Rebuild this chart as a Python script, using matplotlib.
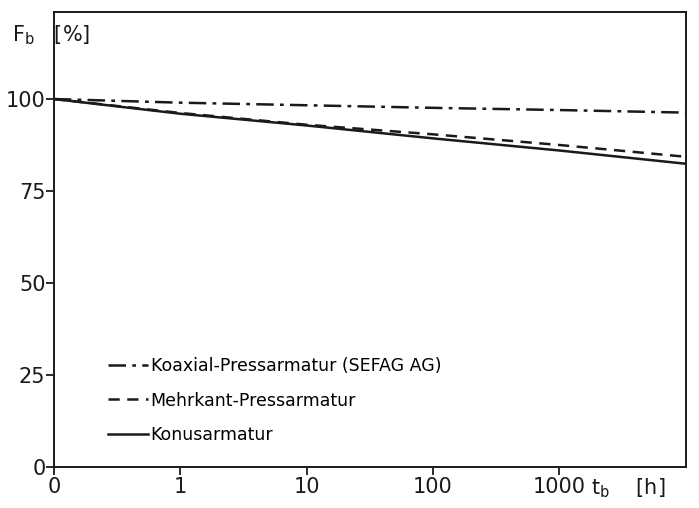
import numpy as np
import matplotlib
matplotlib.use("Agg")
import matplotlib.pyplot as plt

# operating time [h] and remaining force [%]
t_hours = [0, 1, 10, 100, 1000, 10000]
koaxial = [100, 99.0, 98.3, 97.6, 97.0, 96.3]
mehrkant = [100, 96.2, 93.0, 90.4, 87.5, 84.3]
konus = [100, 96.0, 92.8, 89.3, 86.0, 82.4]

labels = ["Koaxial-Pressarmatur (SEFAG AG)", "Mehrkant-Pressarmatur", "Konusarmatur"]
x_ticks = [0, 1, 10, 100, 1000]
x_ticklabels = ["0", "1", "10", "100", "1000"]
y_ticks = [0, 25, 50, 75, 100]


# linear from 0 to 1 h, logarithmic above
def fwd(t):
    t = np.asarray(t, dtype=float)
    return np.where(t < 1, t, np.log10(np.maximum(t, 1)) + 1)


def inv(p):
    p = np.asarray(p, dtype=float)
    return np.where(p < 1, p, 10 ** (p - 1))


plt.rcParams["font.family"] = "DejaVu Sans"

fig = plt.figure(figsize=(6.99, 5.08), dpi=100)
ax = fig.add_axes([0.077, 0.081, 0.904, 0.895])

ax.plot(t_hours, koaxial, color="#1a1a1a", lw=1.8, dashes=(7, 2.5, 1.5, 2.5), label=labels[0])
ax.plot(t_hours, mehrkant, color="#1a1a1a", lw=1.8, dashes=(4.5, 3), label=labels[1])
ax.plot(t_hours, konus, color="#1a1a1a", lw=1.8, label=labels[2])

ax.set_xscale("function", functions=(fwd, inv))
ax.set_xlim(0, 10000)
ax.set_ylim(0, 123.6)

ax.set_xticks(x_ticks)
ax.set_xticklabels(x_ticklabels)
ax.set_yticks(y_ticks)
ax.minorticks_off()
ax.tick_params(axis="both", direction="out", length=6, width=1.3, labelsize=15, pad=1,
               colors="#1a1a1a")
ax.tick_params(axis="y", pad=0)
for s in ax.spines.values():
    s.set_linewidth(1.4)
    s.set_color("#1a1a1a")

fig.text(0.017, 0.918, r"F$_\mathregular{b}$   [%]", fontsize=15, color="#1a1a1a")
fig.text(0.845, 0.027, r"t$_\mathregular{b}$    [h]", fontsize=15, color="#1a1a1a")

leg = ax.legend(loc="lower left", bbox_to_anchor=(0.075, 0.035), frameon=False,
                fontsize=12.5, handlelength=2.3, handletextpad=0.15, labelspacing=0.95,
                borderaxespad=0)

fig.savefig("out.png", dpi=100)
